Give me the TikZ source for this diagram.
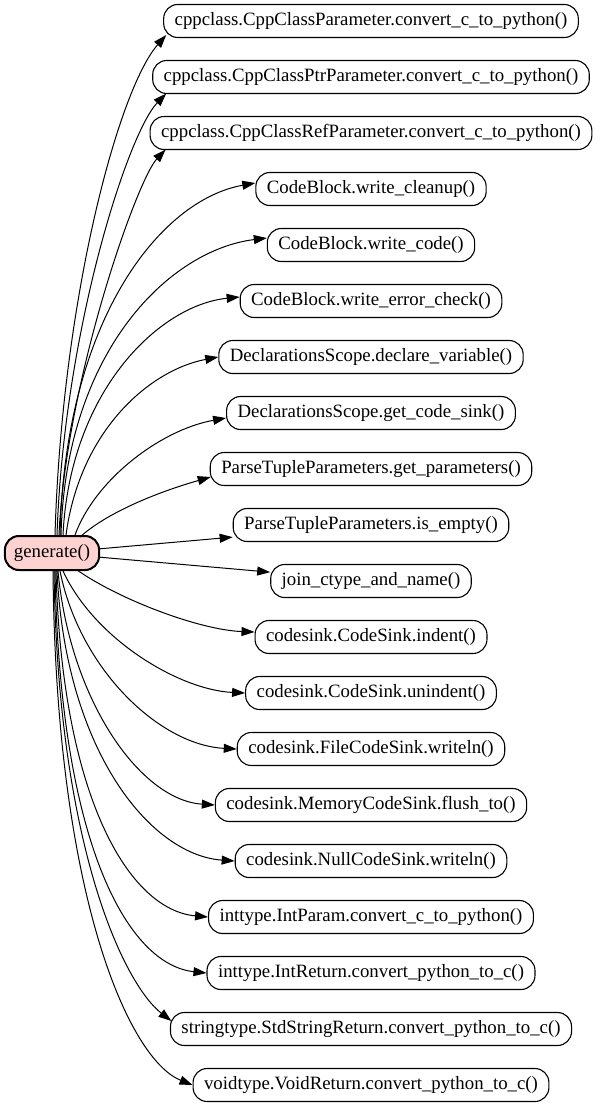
\documentclass[tikz,border=0pt]{standalone}
\usepackage{fontspec}
\setmainfont{Liberation Serif}
\usetikzlibrary{arrows.meta}
\definecolor{genfill}{RGB}{255,210,210}
\tikzset{
  fn/.style={draw=black, line width=1.1pt, rounded corners=14pt, minimum height=33pt, inner xsep=11pt, inner ysep=0pt, font=\fontsize{18.8}{20}\selectfont, anchor=center},
  gen/.style={fn, line width=2pt, fill=genfill, minimum height=34pt, inner xsep=9pt},
  call/.style={draw=black, line width=1pt, -{Triangle[length=13pt,width=9pt]}}
}
\begin{document}
\begin{tikzpicture}[x=1pt,y=-1pt]
\useasboundingbox (0,0) rectangle (600,1107);
\node[gen] (g) at (52,553) {generate()};
\node[fn] (n1) at (371,21) {cppclass.CppClassParameter.convert\_c\_to\_python()};
\node[fn] (n2) at (371,77) {cppclass.CppClassPtrParameter.convert\_c\_to\_python()};
\node[fn] (n3) at (371,133) {cppclass.CppClassRefParameter.convert\_c\_to\_python()};
\node[fn] (n4) at (371,189) {CodeBlock.write\_cleanup()};
\node[fn] (n5) at (371,245) {CodeBlock.write\_code()};
\node[fn] (n6) at (371,301) {CodeBlock.write\_error\_check()};
\node[fn] (n7) at (371,357) {DeclarationsScope.declare\_variable()};
\node[fn] (n8) at (371,413) {DeclarationsScope.get\_code\_sink()};
\node[fn] (n9) at (371,469) {ParseTupleParameters.get\_parameters()};
\node[fn] (n10) at (371,525) {ParseTupleParameters.is\_empty()};
\node[fn] (n11) at (371,581) {join\_ctype\_and\_name()};
\node[fn] (n12) at (371,637) {codesink.CodeSink.indent()};
\node[fn] (n13) at (371,693) {codesink.CodeSink.unindent()};
\node[fn] (n14) at (371,749) {codesink.FileCodeSink.writeln()};
\node[fn] (n15) at (371,805) {codesink.MemoryCodeSink.flush\_to()};
\node[fn] (n16) at (371,861) {codesink.NullCodeSink.writeln()};
\node[fn] (n17) at (371,917) {inttype.IntParam.convert\_c\_to\_python()};
\node[fn] (n18) at (371,973) {inttype.IntReturn.convert\_python\_to\_c()};
\node[fn] (n19) at (371,1029) {stringtype.StdStringReturn.convert\_python\_to\_c()};
\node[fn] (n20) at (371,1085) {voidtype.VoidReturn.convert\_python\_to\_c()};
\draw[call] ([xshift=3pt]g.north) .. controls (62,300) and (118,90) .. ([xshift=3pt,yshift=3pt]n1.south west);
\draw[call] ([xshift=5pt]g.north) .. controls (64,330) and (128,133) .. ([xshift=14pt,yshift=0.5pt]n2.south west);
\draw[call] ([xshift=7pt]g.north) .. controls (66,380) and (137,180) .. ([xshift=16pt,yshift=0.5pt]n3.south west);
\draw[call] ([xshift=8pt]g.north) .. controls (65,320) and (160,200) .. ([yshift=6pt]n4.west);
\draw[call] ([xshift=9pt]g.north) .. controls (66,350) and (170,250) .. ([yshift=7pt]n5.west);
\draw[call] ([xshift=11pt]g.north) .. controls (70,390) and (160,305) .. ([yshift=4pt]n6.west);
\draw[call] ([xshift=14pt]g.north) .. controls (80,430) and (150,370) .. (n7.west);
\draw[call] ([xshift=23pt]g.north) .. controls (95,480) and (160,430) .. ([yshift=-5pt]n8.west);
\draw[call] ([xshift=28pt,yshift=-2pt]g.north) .. controls (110,510) and (165,490) .. ([xshift=1pt,yshift=-8pt]n9.west);
\draw[call] (g) -- (n10);
\draw[call] (g) -- (n11);
\draw[call] ([xshift=25pt,yshift=1pt]g.south) .. controls (120,600) and (200,630) .. ([yshift=5pt]n12.west);
\draw[call] ([xshift=11pt]g.south) .. controls (95,640) and (180,690) .. (n13.west);
\draw[call] ([xshift=8pt]g.south) .. controls (80,670) and (160,745) .. (n14.west);
\draw[call] ([xshift=6pt]g.south) .. controls (70,700) and (140,800) .. (n15.west);
\draw[call] ([xshift=5pt]g.south) .. controls (65,750) and (150,855) .. (n16.west);
\draw[call] ([xshift=4pt]g.south) .. controls (62,800) and (130,910) .. (n17.west);
\draw[call] ([xshift=3pt]g.south) .. controls (60,850) and (130,965) .. (n18.west);
\draw[call] ([xshift=2pt]g.south) .. controls (58,850) and (125,985) .. ([xshift=1.5pt,yshift=8pt]n19.west);
\draw[call] ([xshift=1pt]g.south) .. controls (56,900) and (130,1060) .. (n20.west);
\end{tikzpicture}
\end{document}
